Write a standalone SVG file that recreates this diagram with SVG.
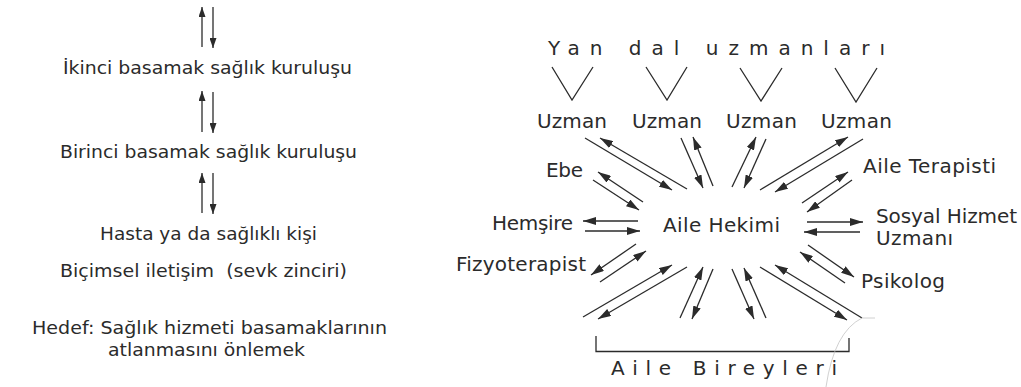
<svg xmlns="http://www.w3.org/2000/svg" width="1021" height="387" viewBox="0 0 1021 387">
<style>
text{font-family:"DejaVu Sans","Noto Sans",sans-serif;fill:#2b2b2b;}
.l{font-size:18px;}
.r{font-size:20px;}
.c{stroke:#2b2b2b;stroke-width:1.3;fill:none;}
.ca{stroke:#2b2b2b;stroke-width:1.3;fill:none;marker-end:url(#ah);}
.cs{stroke:#2b2b2b;stroke-width:1.3;fill:none;marker-end:url(#ahs);}
</style>
<defs>
<marker id="ah" viewBox="0 0 13 8" refX="13" refY="4" markerWidth="13" markerHeight="8" orient="auto" markerUnits="userSpaceOnUse"><path d="M0,0 L13,4 L0,8 z" fill="#2b2b2b"/></marker>
<marker id="ahs" viewBox="0 0 10 7" refX="10" refY="3.5" markerWidth="10" markerHeight="7" orient="auto" markerUnits="userSpaceOnUse"><path d="M0,0 L10,3.5 L0,7 z" fill="#2b2b2b"/></marker>
</defs>
<rect width="1021" height="387" fill="#fff"/>

<g id="left-chain">
<g id="ikinci"><text class="l" x="207.5" y="74" text-anchor="middle" textLength="289" lengthAdjust="spacingAndGlyphs">İkinci basamak sağlık kuruluşu</text></g>
<g id="birinci"><text class="l" x="208.5" y="158" text-anchor="middle" textLength="297" lengthAdjust="spacingAndGlyphs">Birinci basamak sağlık kuruluşu</text></g>
<g id="hasta"><text class="l" x="208.5" y="240" text-anchor="middle" textLength="217" lengthAdjust="spacingAndGlyphs">Hasta ya da sağlıklı kişi</text></g>
<g id="bicimsel"><text class="l" x="203.5" y="277" text-anchor="middle" textLength="287" lengthAdjust="spacingAndGlyphs" xml:space="preserve">Biçimsel iletişim  (sevk zinciri)</text></g>
<g id="hedef">
<text class="l" x="209.5" y="334" text-anchor="middle" textLength="355" lengthAdjust="spacingAndGlyphs">Hedef: Sağlık hizmeti basamaklarının</text>
<text class="l" x="206.5" y="356" text-anchor="middle" textLength="197" lengthAdjust="spacingAndGlyphs">atlanmasını önlemek</text>
</g>
</g>

<g id="yan-dal"><text class="r" x="548" y="55" textLength="337" lengthAdjust="spacing">Yan dal uzmanları</text></g>
<g id="uzman1"><text class="r" x="572" y="128" text-anchor="middle" textLength="70">Uzman</text></g>
<g id="uzman2"><text class="r" x="667" y="128" text-anchor="middle" textLength="70">Uzman</text></g>
<g id="uzman3"><text class="r" x="761.5" y="128" text-anchor="middle" textLength="71">Uzman</text></g>
<g id="uzman4"><text class="r" x="856.5" y="128" text-anchor="middle" textLength="71">Uzman</text></g>
<g id="ebe"><text class="r" x="546" y="177" textLength="37">Ebe</text></g>
<g id="aile-terapisti"><text class="r" x="863" y="173" textLength="133">Aile Terapisti</text></g>
<g id="hemsire"><text class="r" x="492" y="230" textLength="81">Hemşire</text></g>
<g id="aile-hekimi"><text class="r" x="663" y="232" textLength="117">Aile Hekimi</text></g>
<g id="fizyoterapist"><text class="r" x="456" y="271" textLength="130">Fizyoterapist</text></g>
<g id="sosyal-hizmet">
<text class="r" x="876" y="223" textLength="141">Sosyal Hizmet</text>
<text class="r" x="876" y="245" textLength="77">Uzmanı</text>
</g>
<g id="psikolog"><text class="r" x="861" y="288" textLength="84">Psikolog</text></g>
<g id="aile-bireyleri">
<path class="c" d="M596,336 V351.5 H849 V338"/>
<text class="r" x="611" y="375" textLength="226" lengthAdjust="spacing">Aile Bireyleri</text>
</g>

<g id="connectors">
<g id="left-arrows">
<line class="cs" x1="202" y1="47" x2="202" y2="7"/>
<line class="cs" x1="213" y1="7" x2="213" y2="48"/>
<line class="cs" x1="202" y1="132" x2="202" y2="91"/>
<line class="cs" x1="213" y1="92" x2="213" y2="133"/>
<line class="cs" x1="202" y1="213" x2="202" y2="173"/>
<line class="cs" x1="213" y1="173" x2="213" y2="214"/>
</g>
<g id="v-shapes">
<polyline class="c" points="552,67 572,100 593,67"/>
<polyline class="c" points="646,67 667,100 687,67"/>
<polyline class="c" points="740,68 761,101 782,68"/>
<polyline class="c" points="835,68 856,102 877,68"/>
</g>
<g id="star-arrows">
<line class="ca" x1="585" y1="138" x2="672" y2="190"/>
<line class="ca" x1="687" y1="189" x2="600" y2="138"/>
<line class="ca" x1="681" y1="138" x2="703" y2="188"/>
<line class="ca" x1="713" y1="186" x2="693" y2="137"/>
<line class="ca" x1="732" y1="187" x2="756" y2="137"/>
<line class="ca" x1="766" y1="139" x2="744" y2="188"/>
<line class="ca" x1="760" y1="190" x2="848" y2="137"/>
<line class="ca" x1="863" y1="139" x2="775" y2="192"/>
<line class="ca" x1="802" y1="203" x2="848" y2="172"/>
<line class="ca" x1="852" y1="180" x2="807" y2="212"/>
<line class="ca" x1="807" y1="222" x2="863" y2="222"/>
<line class="ca" x1="860" y1="232" x2="804" y2="232"/>
<line class="ca" x1="808" y1="245" x2="854" y2="277"/>
<line class="ca" x1="845" y1="283" x2="800" y2="252"/>
<line class="ca" x1="760" y1="267" x2="847" y2="320"/>
<line class="ca" x1="862" y1="318" x2="775" y2="265"/>
<line class="ca" x1="732" y1="269" x2="754" y2="319"/>
<line class="ca" x1="766" y1="318" x2="744" y2="268"/>
<line class="ca" x1="680" y1="318" x2="703" y2="267"/>
<line class="ca" x1="713" y1="269" x2="692" y2="319"/>
<line class="ca" x1="583" y1="317" x2="672" y2="265"/>
<line class="ca" x1="687" y1="267" x2="598" y2="319"/>
<line class="ca" x1="636" y1="244" x2="591" y2="275"/>
<line class="ca" x1="600" y1="282" x2="646" y2="251"/>
<line class="ca" x1="638" y1="221" x2="583" y2="221"/>
<line class="ca" x1="585" y1="231" x2="640" y2="231"/>
<line class="ca" x1="593" y1="180" x2="639" y2="210"/>
<line class="ca" x1="643" y1="202" x2="598" y2="172"/>
</g>
</g>
<path d="M875,318 L862,318 Q834,332 826,387" fill="none" stroke="#c4c4c4" stroke-width="0.8"/>
</svg>
